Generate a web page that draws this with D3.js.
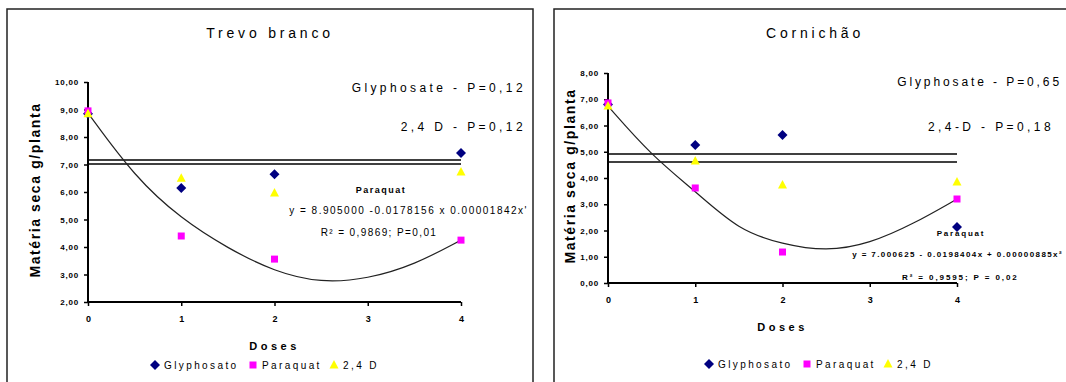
<!DOCTYPE html>
<html>
<head>
<meta charset="utf-8">
<script src="https://cdn.jsdelivr.net/npm/d3@7"></script>
<style>
  body { margin: 0; background: #fff; }
  svg { display: block; font-family: "Liberation Sans", Arial, sans-serif; }
</style>
</head>
<body>
<svg id="chart" width="1066" height="382"></svg>
<script>
// doses on the x axis
const doses = [0, 1, 2, 3, 4];
const seriesNames = ['Glyphosato', 'Paraquat', '2,4 D'];

// Trevo branco
const trevoGlyphosate = [8.85, 6.15, 6.65, null, 7.42];
const trevoParaquat = [8.95, 4.4, 3.56, null, 4.25];
const trevo24D = [8.85, 6.5, 5.96, null, 6.73];
const trevoTrend = [[0, 8.87], [0.5, 6.55], [1, 5.02], [1.5, 3.95], [2, 3.1], [2.5, 2.69], [3, 2.84], [3.5, 3.35], [4, 4.25]];
const trevoLines = [7.16, 7.02];
const trevoYTicks = [2, 3, 4, 5, 6, 7, 8, 9, 10];

// Cornichão
const cornGlyphosate = [6.8, 5.26, 5.64, null, 2.13];
const cornParaquat = [6.86, 3.62, 1.18, null, 3.2];
const corn24D = [6.74, 4.65, 3.73, null, 3.85];
const cornTrend = [[0, 6.74], [0.5, 4.85], [1, 3.5], [1.5, 2.0], [2, 1.48], [2.5, 1.2], [3, 1.5], [3.5, 2.25], [4, 3.2]];
const cornLines = [4.91, 4.61];
const cornYTicks = [0, 1, 2, 3, 4, 5, 6, 7, 8];

const colors = ['#000080', '#ff00ff', '#ffff00'];
const fmt = d => d3.format('.2f')(d).replace('.', ',');

const svg = d3.select('#chart');

// diamond is drawn as a turned square, like the old spreadsheet marker
function symbolPath(i) {
  if (i === 0) return 'M0,-5L5,0L0,5L-5,0Z';
  if (i === 1) return 'M-3.5,-3.5H3.5V3.5H-3.5Z';
  return 'M0,-5L4.5,3.5H-4.5Z';
}

function drawPanel(p) {
  const g = svg.append('g');

  // frame
  g.append('rect')
    .attr('x', p.frame[0]).attr('y', 9)
    .attr('width', p.frame[1] - p.frame[0]).attr('height', 400)
    .attr('fill', 'none').attr('stroke', '#222').attr('stroke-width', 1.5);

  const x = d3.scaleLinear().domain([0, 4]).range(p.xRange);
  const y = d3.scaleLinear().domain(p.yDomain).range(p.yRange);

  // title
  g.append('text')
    .attr('x', p.titleX).attr('y', 38)
    .attr('text-anchor', 'middle')
    .style('font-size', '14px').style('letter-spacing', '3.8px')
    .text(p.title);

  // horizontal double lines
  g.selectAll('.hl').data(p.lines).enter().append('line')
    .attr('x1', x(0)).attr('x2', x(4))
    .attr('y1', d => y(d)).attr('y2', d => y(d))
    .attr('stroke', '#000').attr('stroke-width', 1.5);

  // axes
  const yAxis = d3.axisLeft(y).tickValues(p.yTicks).tickSize(4).tickFormat(fmt);
  const ya = g.append('g').attr('transform', `translate(${x(0)},0)`).call(yAxis);
  ya.select('.domain').attr('stroke-width', 2).attr('d', `M0,${y(p.yDomain[0])}V${y(p.yDomain[1])}`);
  ya.selectAll('.tick line').attr('stroke-width', 1.5);
  ya.selectAll('text').style('font-size', '8px').style('font-weight', 'bold')
    .style('letter-spacing', '0.8px').attr('x', -9);

  const xAxis = d3.axisBottom(x).tickValues(doses).tickSize(4).tickFormat(d3.format('d'));
  const xa = g.append('g').attr('transform', `translate(0,${y(p.yDomain[0])})`).call(xAxis);
  xa.select('.domain').attr('stroke-width', 2).attr('d', `M${x(0)},0H${x(4)}`);
  xa.selectAll('.tick line').attr('stroke-width', 1.5);
  xa.selectAll('text').style('font-size', '9px').style('font-weight', 'bold').attr('y', p.xLabelDy);

  // trend line
  g.append('path')
    .datum(p.trend)
    .attr('fill', 'none').attr('stroke', '#222').attr('stroke-width', 1.2)
    .attr('d', d3.line().x(d => x(d[0])).y(d => y(d[1])).curve(d3.curveBasis));

  // markers
  p.series.forEach((vals, i) => {
    g.selectAll('.m' + i)
      .data(vals.map((v, k) => [doses[k], v]).filter(d => d[1] != null))
      .enter().append('path')
      .attr('d', symbolPath(i))
      .attr('transform', d => `translate(${x(d[0])},${y(d[1])})`)
      .attr('fill', colors[i]);
  });

  // axis titles
  g.append('text')
    .attr('transform', `translate(${p.yTitle[0]},${p.yTitle[1]}) rotate(-90)`)
    .attr('text-anchor', 'middle')
    .style('font-size', '14px').style('font-weight', 'bold').style('letter-spacing', '1.6px')
    .text('Matéria seca g/planta');

  g.append('text')
    .attr('x', x(2)).attr('y', p.xTitleY)
    .attr('text-anchor', 'middle')
    .style('font-size', '11px').style('font-weight', 'bold').style('letter-spacing', '3.5px')
    .text('Doses');

  // legend
  const lg = g.append('g').attr('transform', `translate(${p.legend[0]},${p.legend[1]})`);
  const offs = [0, 98, 179];
  seriesNames.forEach((n, i) => {
    lg.append('path').attr('d', symbolPath(i))
      .attr('transform', `translate(${offs[i]},0)`).attr('fill', colors[i]);
    lg.append('text').attr('x', offs[i] + 9).attr('y', 4)
      .style('font-size', '10px').style('letter-spacing', '2.4px')
      .text(n);
  });

  // annotations
  p.notes.forEach(n => {
    g.append('text')
      .attr('x', n.x).attr('y', n.y)
      .attr('text-anchor', n.anchor || 'start')
      .style('font-size', n.size + 'px')
      .style('font-weight', n.bold ? 'bold' : 'normal')
      .style('letter-spacing', (n.ls || 1) + 'px')
      .text(n.t);
  });
}

drawPanel({
  frame: [7, 533], title: 'Trevo branco', titleX: 270,
  xRange: [88, 461], yDomain: [2, 10], yRange: [302, 82],
  yTicks: trevoYTicks, lines: trevoLines, trend: trevoTrend,
  series: [trevoGlyphosate, trevoParaquat, trevo24D],
  xLabelDy: 14, yTitle: [40, 190], xTitleY: 350, legend: [155, 365],
  notes: [
    { t: 'Glyphosate - P=0,12', x: 526, y: 92, anchor: 'end', size: 12, ls: 3.4 },
    { t: '2,4 D - P=0,12', x: 526, y: 131, anchor: 'end', size: 12, ls: 3.4 },
    { t: 'Paraquat', x: 381, y: 193, anchor: 'middle', size: 9, bold: true, ls: 1.5 },
    { t: 'y = 8.905000  -0.0178156 x  0.00001842x\'', x: 528, y: 214, anchor: 'end', size: 10, ls: 1.5 },
    { t: 'R² = 0,9869; P=0,01', x: 379, y: 236, anchor: 'middle', size: 10, ls: 1.4 }
  ]
});

drawPanel({
  frame: [554, 1100], title: 'Cornichão', titleX: 815,
  xRange: [608, 957], yDomain: [0, 8], yRange: [283, 73],
  yTicks: cornYTicks, lines: cornLines, trend: cornTrend,
  series: [cornGlyphosate, cornParaquat, corn24D],
  xLabelDy: 14, yTitle: [575, 176], xTitleY: 331, legend: [709, 364],
  notes: [
    { t: 'Glyphosate - P=0,65', x: 1062, y: 86, anchor: 'end', size: 12, ls: 2.9 },
    { t: '2,4-D - P=0,18', x: 928, y: 131, size: 12, ls: 3.4 },
    { t: 'Paraquat', x: 961, y: 236, anchor: 'middle', size: 8, bold: true, ls: 1.8 },
    { t: 'y = 7.000625 - 0.0198404x + 0.00000885x²', x: 1063, y: 257, anchor: 'end', size: 8, bold: true, ls: 1.4 },
    { t: 'R² = 0,9595;   P = 0,02', x: 902, y: 280, size: 8, bold: true, ls: 1.9 }
  ]
});
</script>
</body>
</html>
